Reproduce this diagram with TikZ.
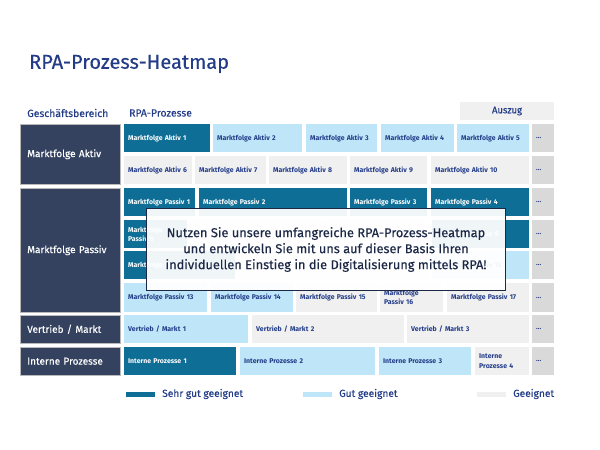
\documentclass[tikz,border=0pt]{standalone}
\usepackage{fontspec}
\setmainfont{Fira Sans}
\newfontfamily\fmed{Fira Sans}[FakeBold=0.35]
\definecolor{dteal}{HTML}{0F6E96}
\definecolor{lblue}{HTML}{BEE6F8}
\definecolor{lgray}{HTML}{F0F0F0}
\definecolor{dgray}{HTML}{D9D9D9}
\definecolor{slate}{HTML}{344260}
\definecolor{tblue}{HTML}{233C88}
\definecolor{navy}{HTML}{1C2846}
\tikzset{
  base/.style={anchor=north west, inner xsep=4pt, inner ysep=0pt, align=left,
    font=\fontsize{6.9}{8.4}\selectfont\bfseries},
  cD/.style={base, fill=dteal, text=white},
  cL/.style={base, fill=lblue, text=tblue},
  cG/.style={base, fill=lgray, text=tblue},
  cX/.style={base, fill=dgray, text=tblue},
  area/.style={anchor=north west, inner xsep=7pt, inner ysep=0pt, align=left,
    fill=slate, draw=gray!55, line width=0.5pt, text=white,
    font=\fmed\fontsize{10}{12}\selectfont},
  hdr/.style={anchor=west, inner sep=0pt, text=tblue, font=\fmed\fontsize{10.4}{12}\selectfont},
  legbar/.style={minimum width=29pt, minimum height=5pt, inner sep=0pt},
  legtxt/.style={anchor=west, inner sep=0pt, text=tblue, font=\fmed\fontsize{10.2}{12}\selectfont},
}
\newcommand{\hcell}[7]{%
  \node[#1, minimum height={(#6-#5)*1pt}, text width={(#4-#3-8)*1pt}] (#2) at (#3,#5) {#7};}
\begin{document}
\begin{tikzpicture}[x=1pt, y=-1pt]
\useasboundingbox (0,0) rectangle (600,450);
% title
\node[anchor=west, inner sep=0pt, text=tblue, font=\fmed\fontsize{20}{24}\selectfont] (title) at (29,64) {RPA-Prozess-Heatmap};
% headers
\node[hdr] (hgb) at (27,113) {Geschäftsbereich};
\node[hdr] (hrpa) at (129,113) {RPA-Prozesse};
\node[fill=lgray, minimum width=94pt, minimum height=18pt, inner sep=0pt, text=tblue,
  font=\fmed\fontsize{9.5}{11}\selectfont] (ausz) at (507,111) {Auszug};
% left column
\node[area, minimum height=60pt, text width=86pt] (aA) at (20,124) {Marktfolge Aktiv};
\node[area, minimum height=124pt, text width=86pt] (aP) at (20,188) {Marktfolge Passiv};
\node[area, minimum height=28pt, text width=86pt] (aV) at (20,315) {Vertrieb / Markt};
\node[area, minimum height=28pt, text width=86pt] (aI) at (20,347) {Interne Prozesse};
% Aktiv row 1
\hcell{cD}{a1}{124}{210}{124}{152}{Marktfolge Aktiv 1}
\hcell{cL}{a2}{213}{302}{124}{152}{Marktfolge Aktiv 2}
\hcell{cL}{a3}{306}{377}{124}{152}{Marktfolge Aktiv 3}
\hcell{cL}{a4}{381}{454}{124}{152}{Marktfolge Aktiv 4}
\hcell{cL}{a5}{457}{529}{124}{152}{Marktfolge Aktiv 5}
\hcell{cX}{ax1}{532}{554}{124}{152}{...}
% Aktiv row 2
\hcell{cG}{a6}{124}{192}{156}{184}{Marktfolge Aktiv 6}
\hcell{cG}{a7}{195}{266}{156}{184}{Marktfolge Aktiv 7}
\hcell{cG}{a8}{269}{347}{156}{184}{Marktfolge Aktiv 8}
\hcell{cG}{a9}{350}{427}{156}{184}{Marktfolge Aktiv 9}
\hcell{cG}{a10}{431}{529}{156}{184}{Marktfolge Aktiv 10}
\hcell{cX}{ax2}{532}{554}{156}{184}{...}
% Passiv row 1
\hcell{cD}{p1}{124}{195}{188}{216}{Marktfolge Passiv 1}
\hcell{cD}{p2}{199}{347}{188}{216}{Marktfolge Passiv 2}
\hcell{cD}{p3}{350}{427}{188}{216}{Marktfolge Passiv 3}
\hcell{cD}{p4}{431}{529}{188}{216}{Marktfolge Passiv 4}
\hcell{cX}{px1}{532}{554}{188}{216}{...}
% Passiv row 2 (mostly hidden)
\hcell{cD}{p5}{124}{187}{220}{248}{Marktfolge\\[1pt]Passiv 5}
\hcell{cG}{p6}{190}{320}{220}{248}{}
\hcell{cG}{p8}{323}{428}{220}{248}{}
\hcell{cD}{p9}{432}{529}{220}{248}{Marktfolge Passiv 9}
\hcell{cX}{px2}{532}{554}{220}{248}{...}
% Passiv row 3 (mostly hidden)
\hcell{cD}{p10}{124}{235}{251}{279}{Marktfolge Passiv 10}
\hcell{cG}{p11}{238}{428}{251}{279}{}
\hcell{cL}{p12}{432}{529}{251}{279}{Marktfolge Passiv 12}
\hcell{cX}{px3}{532}{554}{251}{279}{...}
% Passiv row 4
\hcell{cL}{p13}{124}{207}{283}{312}{Marktfolge Passiv 13}
\hcell{cL}{p14}{211}{293}{283}{312}{Marktfolge Passiv 14}
\hcell{cG}{p15}{296}{377}{283}{312}{Marktfolge Passiv 15}
\hcell{cG}{p16}{380}{443}{283}{312}{Marktfolge\\[1pt]Passiv 16}
\hcell{cG}{p17}{447}{529}{283}{312}{Marktfolge Passiv 17}
\hcell{cX}{px4}{532}{554}{283}{312}{...}
% Vertrieb
\hcell{cL}{v1}{124}{248}{315}{343}{Vertrieb / Markt 1}
\hcell{cG}{v2}{252}{404}{315}{343}{Vertrieb / Markt 2}
\hcell{cG}{v3}{407}{529}{315}{343}{Vertrieb / Markt 3}
\hcell{cX}{vx}{532}{554}{315}{343}{...}
% Interne
\hcell{cD}{i1}{124}{236}{347}{375}{Interne Prozesse 1}
\hcell{cL}{i2}{240}{375}{347}{375}{Interne Prozesse 2}
\hcell{cL}{i3}{379}{471}{347}{375}{Interne Prozesse 3}
\hcell{cG}{i4}{475}{529}{347}{375}{Interne\\[1pt]Prozesse 4}
\hcell{cX}{ix}{532}{554}{347}{375}{...}
% overlay
\node[draw=navy, line width=1.3pt, fill=white, fill opacity=0.94, text opacity=1,
  text=navy, minimum width=359pt, minimum height=82pt, inner sep=0pt, align=center,
  font=\fmed\fontsize{12.8}{16}\selectfont] (ov) at (326,249.5)
  {Nutzen Sie unsere umfangreiche RPA-Prozess-Heatmap\\und entwickeln Sie mit uns auf dieser Basis Ihren\\individuellen Einstieg in die Digitalisierung mittels RPA!};
% legend
\node[legbar, fill=dteal] (l1) at (140.5,394.5) {};
\node[legtxt] (t1) at (162,394) {Sehr gut geeignet};
\node[legbar, fill=lblue] (l2) at (317.5,394.5) {};
\node[legtxt] (t2) at (339,394) {Gut geeignet};
\node[legbar, fill=lgray] (l3) at (491.5,394.5) {};
\node[legtxt] (t3) at (513,394) {Geeignet};
\end{tikzpicture}
\end{document}
